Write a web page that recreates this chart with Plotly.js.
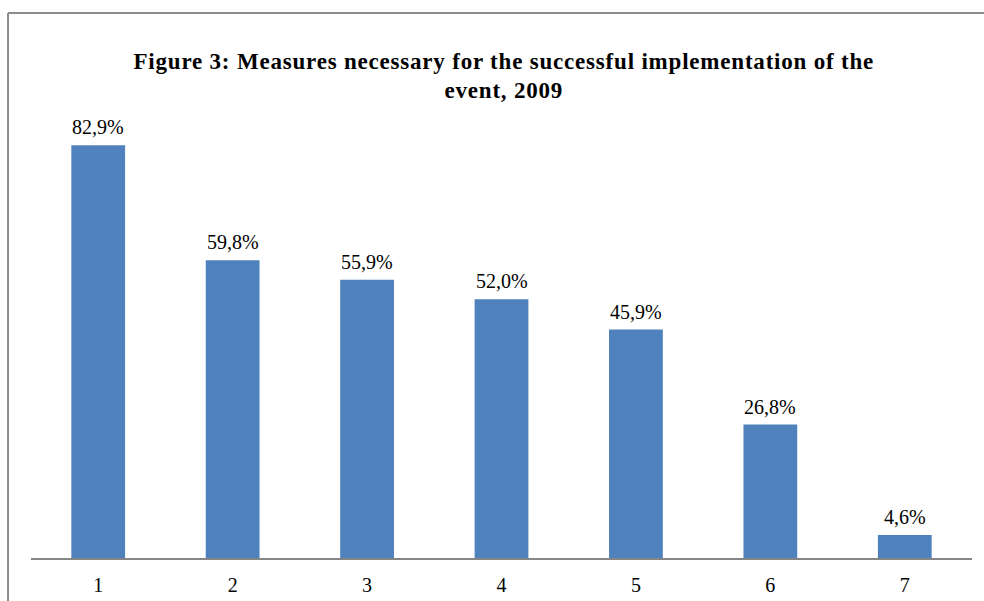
<!DOCTYPE html>
<html>
<head>
<meta charset="utf-8">
<script src="https://cdn.plot.ly/plotly-3.0.1.min.js"></script>
<style>html,body{margin:0;padding:0;background:#fff;}#chart{width:984px;height:601px;}
#chart .gtitle{letter-spacing:0.8px;}</style>
</head>
<body>
<div id="chart"></div>
<script>
const categories = ["1", "2", "3", "4", "5", "6", "7"];
const values = [82.9, 59.8, 55.9, 52.0, 45.9, 26.8, 4.6];
const labels = values.map(v => v.toFixed(1).replace('.', ',') + '%');
const titleText = "Figure 3: Measures necessary for the successful implementation of the<br>event, 2009";
const serif = '"Liberation Serif", "Times New Roman", serif';

const trace = {
  type: 'bar',
  x: categories,
  y: values,
  marker: {color: '#4F81BD'},
  width: 0.4,
  hoverinfo: 'none'
};

const annotations = categories.map((c, i) => ({
  x: i, y: values[i], xref: 'x', yref: 'y',
  text: labels[i], showarrow: false,
  xanchor: 'center', yanchor: 'bottom', yshift: 5,
  font: {family: serif, size: 20, color: '#000'}
}));

const layout = {
  width: 984,
  height: 601,
  margin: {l: 31, r: 12, t: 110, b: 43},
  paper_bgcolor: '#fff',
  plot_bgcolor: '#fff',
  showlegend: false,
  title: {
    text: titleText,
    font: {family: serif, size: 23, color: '#000', weight: 'bold'},
    x: 0.512, xanchor: 'center',
    y: 0.886, yanchor: 'top', yref: 'container'
  },
  xaxis: {
    type: 'category',
    range: [-0.5, 6.5], autorange: false,
    showline: true, linecolor: '#868686', linewidth: 1.5,
    ticks: '', showgrid: false, zeroline: false,
    ticklabelstandoff: 8,
    tickfont: {family: serif, size: 20, color: '#000'}
  },
  yaxis: {
    range: [0, 90], visible: false, showgrid: false, zeroline: false
  },
  annotations: annotations,
  shapes: [
    {type: 'line', xref: 'paper', yref: 'paper', x0: -0.0244, x1: -0.0244, y0: -0.2, y1: 1.2165, line: {color: '#8c8c8c', width: 2}},
    {type: 'line', xref: 'paper', yref: 'paper', x0: -0.0244, x1: 1.1, y0: 1.2165, y1: 1.2165, line: {color: '#8c8c8c', width: 2}}
  ]
};

Plotly.newPlot('chart', [trace], layout, {displayModeBar: false, staticPlot: true});
</script>
</body>
</html>
